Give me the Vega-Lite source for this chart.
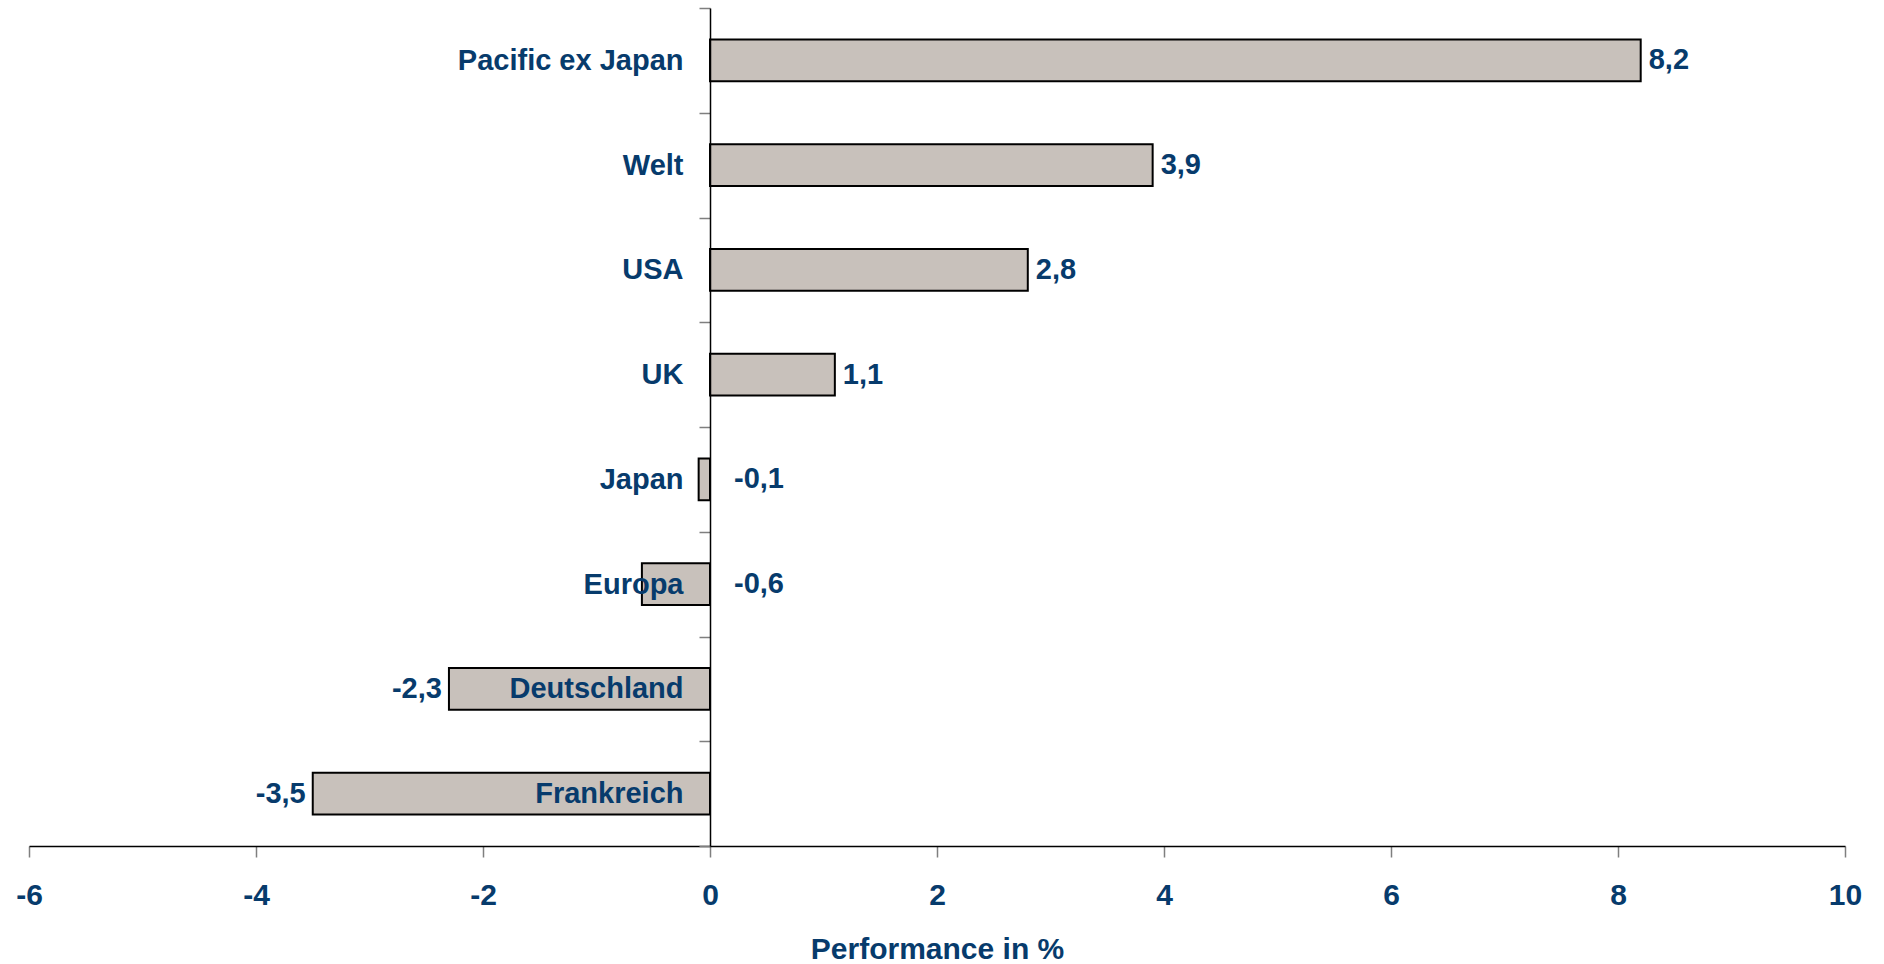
{
  "$schema": "https://vega.github.io/schema/vega-lite/v6.json",
  "autosize": {"type": "none"},
  "padding": {"left": 29, "top": 8, "right": 39, "bottom": 118},
  "width": 1816,
  "height": 838,
  "background": "white",
  "data": {
    "values": [
      {"region": "Pacific ex Japan", "value": 8.2},
      {"region": "Welt", "value": 3.9},
      {"region": "USA", "value": 2.8},
      {"region": "UK", "value": 1.1},
      {"region": "Japan", "value": -0.1},
      {"region": "Europa", "value": -0.6},
      {"region": "Deutschland", "value": -2.3},
      {"region": "Frankreich", "value": -3.5}
    ]
  },
  "encoding": {
    "y": {
      "field": "region",
      "type": "nominal",
      "sort": ["Pacific ex Japan", "Welt", "USA", "UK", "Japan", "Europa", "Deutschland", "Frankreich"],
      "scale": {"paddingInner": 0, "paddingOuter": 0},
      "axis": {
        "title": null,
        "offset": -681,
        "zindex": 1,
        "tickBand": "extent",
        "tickSize": 11,
        "tickColor": "#7f7f7f",
        "tickWidth": 1.5,
        "domainColor": "#000000",
        "domainWidth": 1.5,
        "labelPadding": 16,
        "labelFontSize": 29,
        "labelFont": "Liberation Sans",
        "labelFontWeight": "bold",
        "labelColor": "#073b6c",
        "labelLimit": 0
      }
    }
  },
  "layer": [
    {
      "mark": {"type": "bar", "fill": "#c8c1bb", "stroke": "#000000", "strokeWidth": 2, "height": {"band": 0.4}},
      "encoding": {
        "x": {
          "field": "value",
          "type": "quantitative",
          "scale": {"domain": [-6, 10], "nice": false, "zero": false},
          "axis": {
            "values": [-6, -4, -2, 0, 2, 4, 6, 8, 10],
            "format": "d",
            "grid": false,
            "labelFlush": false,
            "labelOverlap": false,
            "tickSize": 11,
            "tickColor": "#7f7f7f",
            "tickWidth": 1.5,
            "domainColor": "#000000",
            "domainWidth": 1.5,
            "labelPadding": 23,
            "labelFontSize": 30,
            "labelFont": "Liberation Sans",
            "labelFontWeight": "bold",
            "labelColor": "#073b6c",
            "title": "Performance in %",
            "titleFontSize": 30,
            "titleFont": "Liberation Sans",
            "titleFontWeight": "bold",
            "titleColor": "#073b6c",
            "titlePadding": 24
          }
        }
      }
    },
    {
      "transform": [{"filter": "datum.value >= 0"}],
      "mark": {"type": "text", "align": "left", "baseline": "middle", "dx": 8, "fontSize": 29, "font": "Liberation Sans", "fontWeight": "bold", "color": "#073b6c"},
      "encoding": {
        "x": {"field": "value", "type": "quantitative"},
        "text": {"field": "value", "type": "quantitative", "format": ".1f"}
      }
    },
    {
      "transform": [{"filter": "datum.value < 0 && datum.value > -1"}],
      "mark": {"type": "text", "align": "left", "baseline": "middle", "dx": 24, "fontSize": 29, "font": "Liberation Sans", "fontWeight": "bold", "color": "#073b6c"},
      "encoding": {
        "x": {"datum": 0, "type": "quantitative"},
        "text": {"field": "value", "type": "quantitative", "format": ".1f"}
      }
    },
    {
      "transform": [{"filter": "datum.value <= -1"}],
      "mark": {"type": "text", "align": "right", "baseline": "middle", "dx": -7, "fontSize": 29, "font": "Liberation Sans", "fontWeight": "bold", "color": "#073b6c"},
      "encoding": {
        "x": {"field": "value", "type": "quantitative"},
        "text": {"field": "value", "type": "quantitative", "format": ".1f"}
      }
    }
  ],
  "config": {
    "view": {"stroke": null},
    "locale": {
      "number": {"decimal": ",", "thousands": ".", "grouping": [3], "currency": ["", " €"], "minus": "-"}
    }
  }
}
